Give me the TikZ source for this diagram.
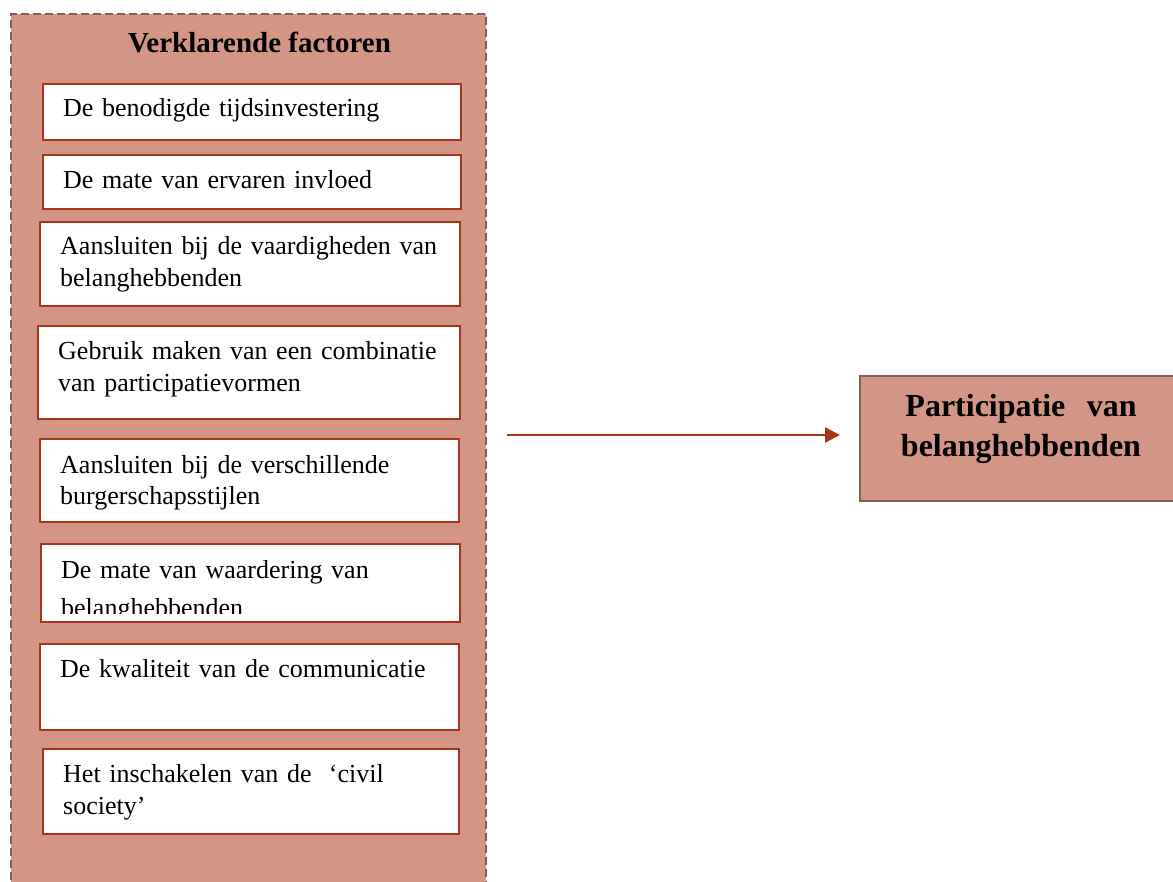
\documentclass[tikz,border=0pt]{standalone}
\usepackage{fontspec}
\setmainfont{Liberation Serif}
\usetikzlibrary{arrows.meta}
\definecolor{salmon}{HTML}{D39585}
\definecolor{boxred}{HTML}{A8351B}
\definecolor{framegray}{HTML}{7F6058}
\definecolor{targetedge}{HTML}{7F625B}

\begin{document}
\begin{tikzpicture}[
  x=1pt, y=-1pt,
  frame/.style={draw=framegray, fill=salmon, line width=1.8pt, dash pattern=on 8pt off 4pt, anchor=north west, inner sep=0pt},
  factor/.style={draw=boxred, fill=white, line width=2pt, anchor=north west, inner sep=0pt},
  factortext/.style={anchor=base west, inner sep=0pt, text width=400pt, align=left, font=\fontsize{26}{32}\selectfont},
  heading/.style={anchor=base, inner sep=0pt, font=\bfseries\fontsize{29}{34}\selectfont},
  target/.style={draw=targetedge, fill=salmon, line width=2pt, anchor=north west, inner sep=0pt},
  targettext/.style={anchor=base, inner sep=0pt, text width=320pt, align=center, font=\bfseries\fontsize{32}{40}\selectfont},
  link/.style={draw=boxred, line width=2.5pt, -{Triangle[length=15pt,width=15pt]}}
]
\useasboundingbox (0,0) rectangle (1173,882);
\node[frame, minimum width=475pt, minimum height=880pt] (frame) at (10,13) {};
\node[heading] (title) at ([xshift=249.5pt,yshift=-40pt]frame.north west) {Verklarende factoren};

\node[factor, minimum width=418pt, minimum height=56pt] (f1) at (42,83) {};
\node[factor, minimum width=418pt, minimum height=54pt] (f2) at (42,154) {};
\node[factor, minimum width=420pt, minimum height=84pt] (f3) at (39,221) {};
\node[factor, minimum width=422pt, minimum height=93pt] (f4) at (37,325) {};
\node[factor, minimum width=419pt, minimum height=83pt] (f5) at (39,438) {};
\node[factor, minimum width=419pt, minimum height=78pt] (f6) at (40,543) {};
\node[factor, minimum width=419pt, minimum height=86pt] (f7) at (39,643) {};
\node[factor, minimum width=416pt, minimum height=85pt] (f8) at (42,748) {};

\node[factortext] (t1) at ([xshift=21pt,yshift=-34pt]f1.north west) {De benodigde tijdsinvestering};
\node[factortext] (t2) at ([xshift=21pt,yshift=-35pt]f2.north west) {De mate van ervaren invloed};
\node[factortext] (t3) at ([xshift=21pt,yshift=-34pt]f3.north west) {Aansluiten bij de vaardigheden van\\belanghebbenden};
\node[factortext] (t4) at ([xshift=21pt,yshift=-35pt]f4.north west) {Gebruik maken van een combinatie\\van participatievormen};
\node[factortext] (t5) at ([xshift=21pt,yshift=-35pt]f5.north west) {Aansluiten bij de verschillende\\burgerschapsstijlen};
\begin{scope}
  \clip ([yshift=-1pt]f6.north west) rectangle ([yshift=10pt]f6.south east);
  \node[factortext, font=\fontsize{26}{38}\selectfont] (t6) at ([xshift=21pt,yshift=-35pt]f6.north west) {De mate van waardering van\\belanghebbenden};
\end{scope}
\node[factortext] (t7) at ([xshift=21pt,yshift=-34pt]f7.north west) {De kwaliteit van de communicatie};
\node[factortext] (t8) at ([xshift=21pt,yshift=-34pt]f8.north west) {Het inschakelen van de\ \ ‘civil\\society’};

\node[target, minimum width=322pt, minimum height=125pt] (part) at (859,375) {};
\node[targettext] (parttext) at ([yshift=-42pt]part.north) {Participatie\ \ van\\belanghebbenden};

\coordinate (arrowstart) at (507,435);
\draw[link, shorten >=19pt] (arrowstart) -- (arrowstart -| part.west);
\end{tikzpicture}
\end{document}
